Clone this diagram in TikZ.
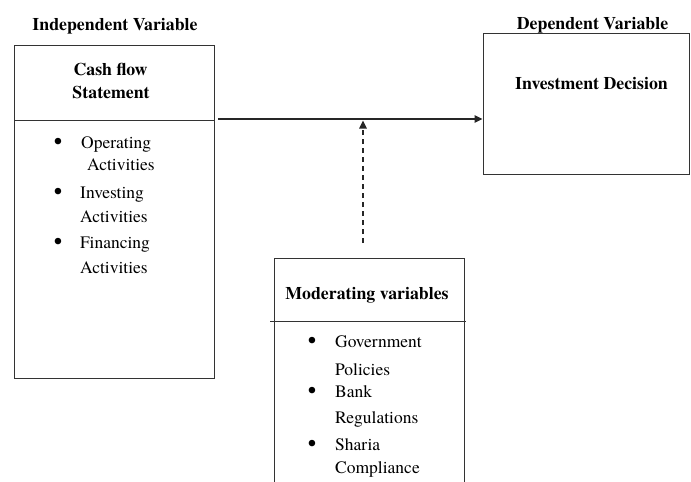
\documentclass[tikz,border=0pt]{standalone}
\usepackage{fontspec}
\setmainfont{TeX Gyre Termes}
\usetikzlibrary{arrows.meta}
\begin{document}
\begin{tikzpicture}[x=1pt,y=-1pt,
  box/.style={draw=black!80, line width=1pt, rectangle, inner sep=0pt},
  divider/.style={draw=black!80, line width=1pt},
  hd/.style={font=\fontsize{17.8}{21}\selectfont\bfseries, anchor=base, inner sep=0pt},
  item/.style={font=\fontsize{17.5}{25}\selectfont, anchor=base west, inner sep=0pt},
  bul/.style={font=\fontsize{24}{25}\selectfont, anchor=base, inner sep=0pt},
  conn/.style={draw=black!85, line width=1.2pt, -{Triangle[length=8pt,width=7.5pt]}},
  dconn/.style={conn, dashed, dash pattern=on 5pt off 4pt}]
\useasboundingbox (0,0) rectangle (691,482);
\clip (0,0) rectangle (691,482);
% boxes
\node[box, minimum width=200pt, minimum height=333pt] (cash) at (114,211.5) {};
\node[box, minimum width=206pt, minimum height=141pt] (inv) at (586,103.5) {};
\node[box, minimum width=190pt, minimum height=242pt] (mod) at (369,379) {};
% dividers
\coordinate (cd1) at (14,120);
\coordinate (cd2) at (214,120);
\draw[divider] (cd1) -- (cd2);
\coordinate (md1) at (270,321);
\coordinate (md2) at (466,321);
\draw[divider] (md1) -- (md2);
% titles
\node[hd] (tindep) at (115,30) {Independent Variable};
\node[hd] (tdep) at (592.5,29) {Dependent Variable};
% cash box text
\node[hd] (cf1) at (110.5,75) {Cash flow};
\node[hd] (cf2) at (111,98) {Statement};
\node[bul] (b1) at (58,149) {\textbullet};
\node[item] (i1a) at (81,148) {Operating};
\node[item] (i1b) at (87,170) {Activities};
\node[bul] (b2) at (58,199) {\textbullet};
\node[item] (i2a) at (80,198) {Investing};
\node[item] (i2b) at (80,222) {Activities};
\node[bul] (b3) at (58,249) {\textbullet};
\node[item] (i3a) at (80,248) {Financing};
\node[item] (i3b) at (80,273) {Activities};
% investment box text
\node[hd] (invt) at (591.5,89) {Investment Decision};
% moderating box text
\node[hd] (modt) at (367,299) {Moderating variables};
\node[bul] (m1) at (312,348) {\textbullet};
\node[item] (m1a) at (335,347) {Government};
\node[item] (m1b) at (335,375) {Policies};
\node[bul] (m2) at (312,398) {\textbullet};
\node[item] (m2a) at (335,397) {Bank};
\node[item] (m2b) at (335,423) {Regulations};
\node[bul] (m3) at (312,451) {\textbullet};
\node[item] (m3a) at (335,450) {Sharia};
\node[item] (m3b) at (335,473) {Compliance};
% connectors
\coordinate (a0) at (218,119);
\draw[conn] (a0) -- (inv.west |- a0);
\coordinate (d0) at (363,243);
\draw[dconn] (d0) -- ([yshift=-1.5pt]d0 |- a0);
\end{tikzpicture}
\end{document}
